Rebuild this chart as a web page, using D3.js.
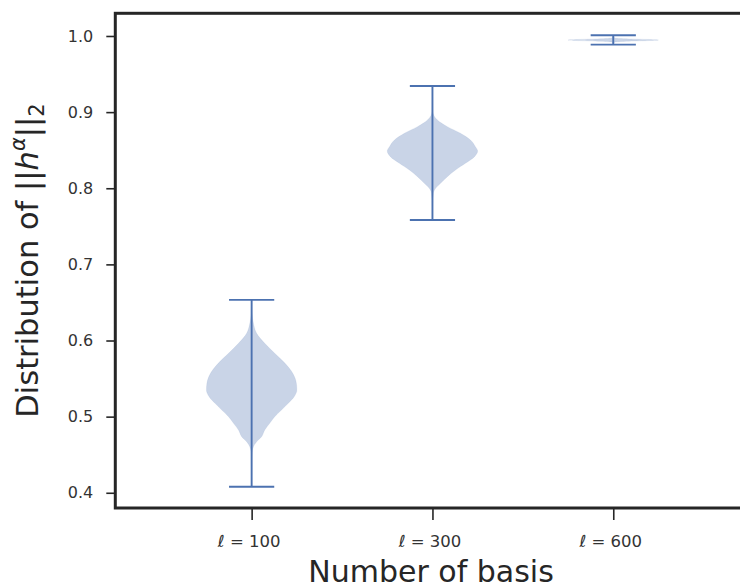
<!DOCTYPE html>
<html>
<head>
<meta charset="utf-8">
<script src="https://cdn.jsdelivr.net/npm/d3@7"></script>
<style>
  html, body { margin: 0; padding: 0; background: #fff; }
  svg { display: block; }
  text { font-family: "DejaVu Sans", sans-serif; }
</style>
</head>
<body>
<script>
// ---------------- data ----------------
const positions = [1, 2, 3];
const basisLabels = ["100", "300", "600"];
const yTicks = [0.4, 0.5, 0.6, 0.7, 0.8, 0.9, 1.0];

const mins = [0.4079, 0.7583, 0.9886];
const maxs = [0.6534, 0.9343, 1.0009];

// violin outlines: value along y, relative half-width (1 = widest)
const v100Values = [0.4079, 0.430, 0.4518, 0.4605, 0.4670, 0.4736, 0.4824, 0.4912, 0.4999, 0.5087, 0.5175, 0.5261, 0.5349, 0.5437, 0.5569, 0.5700, 0.5832, 0.5963, 0.6094, 0.6226, 0.635, 0.6534];
const v100Widths = [0, 0.003, 0.01, 0.04, 0.11, 0.22, 0.29, 0.40, 0.51, 0.66, 0.81, 0.94, 1.0, 0.99, 0.91, 0.74, 0.51, 0.29, 0.11, 0.04, 0.01, 0];

const v300Values = [0.7583, 0.775, 0.7934, 0.7999, 0.8065, 0.8152, 0.8240, 0.8328, 0.8414, 0.8489, 0.8546, 0.8634, 0.8722, 0.8809, 0.8896, 0.9006, 0.915, 0.9343];
const v300Widths = [0, 0.003, 0.02, 0.07, 0.18, 0.33, 0.51, 0.73, 0.93, 1.0, 0.95, 0.84, 0.62, 0.33, 0.11, 0.01, 0.003, 0];

const v600Values = [0.9886, 0.9920, 0.9932, 0.9940, 0.9947, 0.9954, 0.9962, 0.9975, 1.0009];
const v600Widths = [0, 0.03, 0.35, 0.8, 1.0, 0.8, 0.35, 0.03, 0];

const violinValues = [v100Values, v300Values, v600Values];
const violinWidths = [v100Widths, v300Widths, v600Widths];

// ---------------- layout ----------------
(function () {
const W = 740, H = 584;
const mLeft = 115.3, mRight = 749.6, mTop = 13.3, mBottom = 508;
const blue = "#4c72b0";
const ink = "#262626";

const svg = d3.select("body").append("svg")
  .attr("width", W).attr("height", H)
  .attr("viewBox", `0 0 ${W} ${H}`);

svg.append("rect").attr("width", W).attr("height", H).attr("fill", "#fff");

const x = d3.scaleLinear().domain([0.246, 3.754]).range([mLeft, mRight]);
const y = d3.scaleLinear().domain([0.38, 1.0298]).range([mBottom, mTop]);

const halfMax = 0.25;   // max half-width of violin body (x units)
const capHalf = 0.125;  // half-length of min/max caps

const plot = svg.append("g");

// bodies
positions.forEach((p, i) => {
  const pts = violinValues[i].map((v, j) => ({ v, w: violinWidths[i][j] }));
  const area = d3.area()
    .y(d => y(d.v))
    .x0(d => x(p - halfMax * d.w))
    .x1(d => x(p + halfMax * d.w))
    .curve(d3.curveMonotoneY);
  plot.append("path")
    .datum(pts)
    .attr("d", area)
    .attr("fill", blue)
    .attr("fill-opacity", 0.3)
    .attr("stroke", blue)
    .attr("stroke-opacity", 0.15)
    .attr("stroke-width", 0.6);
});

// min/max bars and caps
positions.forEach((p, i) => {
  plot.append("line")
    .attr("x1", x(p)).attr("x2", x(p))
    .attr("y1", y(mins[i])).attr("y2", y(maxs[i]))
    .attr("stroke", blue).attr("stroke-width", 1.9);
  [mins[i], maxs[i]].forEach(v => {
    plot.append("line")
      .attr("x1", x(p - capHalf)).attr("x2", x(p + capHalf))
      .attr("y1", y(v)).attr("y2", y(v))
      .attr("stroke", blue).attr("stroke-width", 1.9);
  });
});

// y axis
const yAxis = svg.append("g")
  .attr("transform", `translate(${mLeft},0)`)
  .call(d3.axisLeft(y).tickValues(yTicks).tickSize(9).tickPadding(13)
    .tickFormat(d3.format(".1f")));
yAxis.select(".domain").remove();
yAxis.selectAll(".tick line").attr("stroke", ink).attr("stroke-width", 1.6);
yAxis.selectAll(".tick text")
  .attr("fill", "#333")
  .attr("font-size", 16)
  .attr("font-family", "DejaVu Sans");

// x axis
const xAxis = svg.append("g")
  .attr("transform", `translate(0,${mBottom})`)
  .call(d3.axisBottom(x).tickValues(positions).tickSize(12).tickFormat(() => ""));
xAxis.select(".domain").remove();
xAxis.selectAll(".tick line").attr("stroke", ink).attr("stroke-width", 1.6);
xAxis.selectAll(".tick").each(function (d, i) {
  const t = d3.select(this).append("text")
    .attr("x", -3).attr("y", 38.5)
    .attr("text-anchor", "middle")
    .attr("fill", "#333")
    .attr("font-size", 16.5)
    .attr("font-family", "DejaVu Sans");
  t.append("tspan").attr("font-style", "italic").text("ℓ");
  t.append("tspan").text(" = " + basisLabels[i]);
});

// frame (spines)
svg.append("rect")
  .attr("x", mLeft).attr("y", mTop)
  .attr("width", mRight - mLeft).attr("height", mBottom - mTop)
  .attr("fill", "none").attr("stroke", ink).attr("stroke-width", 3);

// axis labels
svg.append("text")
  .attr("x", 431)
  .attr("y", 582)
  .attr("text-anchor", "middle")
  .attr("fill", ink)
  .attr("font-size", 30)
  .text("Number of basis");

const yl = svg.append("text")
  .attr("transform", `translate(37.5,260.5) rotate(-90)`)
  .attr("text-anchor", "middle")
  .attr("fill", ink)
  .attr("font-size", 30.5);
yl.append("tspan").text("Distribution of ||");
yl.append("tspan").attr("font-style", "italic").text("h");
yl.append("tspan").attr("font-style", "italic").attr("font-size", 21).attr("dy", -12.5).text("α");
yl.append("tspan").attr("dy", 12.5).text("||");
yl.append("tspan").attr("font-size", 21).attr("dy", 6).text("2");
})();
</script>
</body>
</html>
